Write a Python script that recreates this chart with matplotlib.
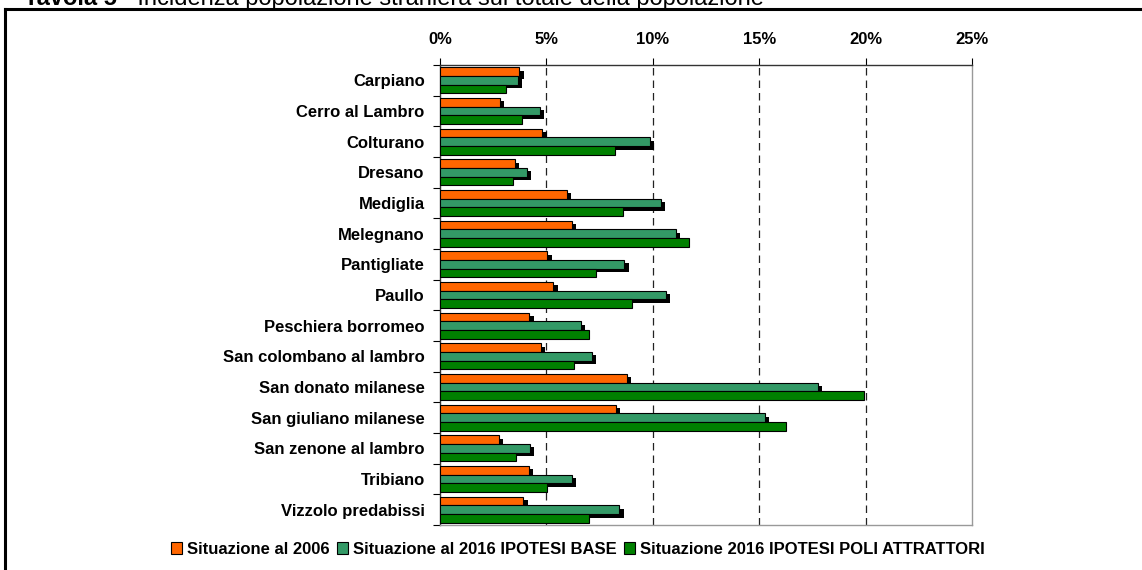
import matplotlib.pyplot as plt
import matplotlib.patheffects as pe
from matplotlib.patches import Patch
from matplotlib.lines import Line2D
import numpy as np

plt.rcParams['font.family'] = ['Liberation Sans', 'DejaVu Sans']

# Comuni (dall'alto verso il basso)
comuni = ['Carpiano', 'Cerro al Lambro', 'Colturano', 'Dresano', 'Mediglia',
          'Melegnano', 'Pantigliate', 'Paullo', 'Peschiera borromeo',
          'San colombano al lambro', 'San donato milanese',
          'San giuliano milanese', 'San zenone al lambro', 'Tribiano',
          'Vizzolo predabissi']

# Incidenza popolazione straniera (%)
sit_2006 = [3.73, 2.82, 4.81, 3.51, 5.96, 6.19, 5.05, 5.33, 4.20, 4.75,
            8.80, 8.28, 2.78, 4.16, 3.92]
ipotesi_base = [3.68, 4.70, 9.88, 4.08, 10.38, 11.07, 8.67, 10.60, 6.63, 7.15,
                17.76, 15.26, 4.23, 6.18, 8.43]
poli_attrattori = [3.10, 3.86, 8.23, 3.45, 8.62, 11.68, 7.31, 9.02, 7.02, 6.30,
                   19.91, 16.27, 3.57, 5.05, 7.02]

serie = ['Situazione al 2006', 'Situazione al 2016 IPOTESI BASE',
         'Situazione 2016 IPOTESI POLI ATTRATTORI']
colori = ['#FF6600', '#339966', '#008000']
xticks = [0, 5, 10, 15, 20, 25]

fig = plt.figure(figsize=(11.42, 5.7), dpi=100)
ax = fig.add_axes([440 / 1142, 45 / 570, 532 / 1142, 460 / 570])

y = np.arange(len(comuni))
h = 0.285
shadow = [pe.SimplePatchShadow(offset=(3, -2.5), shadow_rgbFace='black', alpha=1.0),
          pe.Normal()]

valori = [sit_2006, ipotesi_base, poli_attrattori]
for i, (vals, col) in enumerate(zip(valori, colori)):
    bars = ax.barh(y + (i - 1) * h, vals, height=h, color=col, edgecolor='black',
                   linewidth=0.8, zorder=3 + i)
    if i < 2:
        for b in bars:
            b.set_path_effects(shadow)

ax.set_xlim(0, 25)
ax.set_ylim(len(comuni) - 0.5, -0.5)

# griglia verticale tratteggiata
for xv in xticks[1:-1]:
    ax.axvline(xv, color='#222222', linestyle=(0, (6, 4)), linewidth=0.9, zorder=1)

ax.xaxis.tick_top()
ax.set_xticks(xticks)
ax.set_xticklabels([f'{v}%' for v in xticks], fontsize=12, fontweight='bold')
ax.tick_params(axis='x', direction='out', length=5, width=0.8, pad=8)

ax.set_yticks(y)
ax.set_yticklabels(comuni, fontsize=12, fontweight='bold')
ax.tick_params(axis='y', length=0, pad=11)
ax.set_yticks(np.arange(len(comuni) + 1) - 0.5, minor=True)
ax.tick_params(axis='y', which='minor', direction='out', length=5, width=0.8)

ax.spines['top'].set_color('#333333')
ax.spines['left'].set_color('#333333')
ax.spines['right'].set_color('#999999')
ax.spines['bottom'].set_color('#999999')
for s in ax.spines.values():
    s.set_linewidth(1.0)

# cornice esterna (solo lato superiore e sinistro)
fig.add_artist(Line2D([5 / 1142, 1.0], [1 - 9 / 570, 1 - 9 / 570], color='black',
                      linewidth=2.2, transform=fig.transFigure))
fig.add_artist(Line2D([5 / 1142, 5 / 1142], [0, 1 - 9 / 570], color='black',
                      linewidth=2.2, transform=fig.transFigure))

# titolo tagliato in alto
t1 = fig.text(24 / 1142, 1 - 5 / 570, 'Tavola 5', fontsize=17, fontweight='bold',
              va='baseline', ha='left')
fig.canvas.draw()
x_end = t1.get_window_extent().x1 / fig.bbox.width
fig.text(x_end + 6 / 1142, 1 - 5 / 570,
         '- Incidenza popolazione straniera sul totale della popolazione',
         fontsize=17, va='baseline', ha='left')

handles = [Patch(facecolor=c, edgecolor='black', linewidth=0.8) for c in colori]
fig.legend(handles, serie, loc='center', bbox_to_anchor=(578 / 1142, 1 - 549 / 570),
           ncol=3, frameon=False, prop={'weight': 'bold', 'size': 12},
           handlelength=0.7, handleheight=0.7, handletextpad=0.3, columnspacing=0.4)

fig.savefig('out.png', dpi=100)
